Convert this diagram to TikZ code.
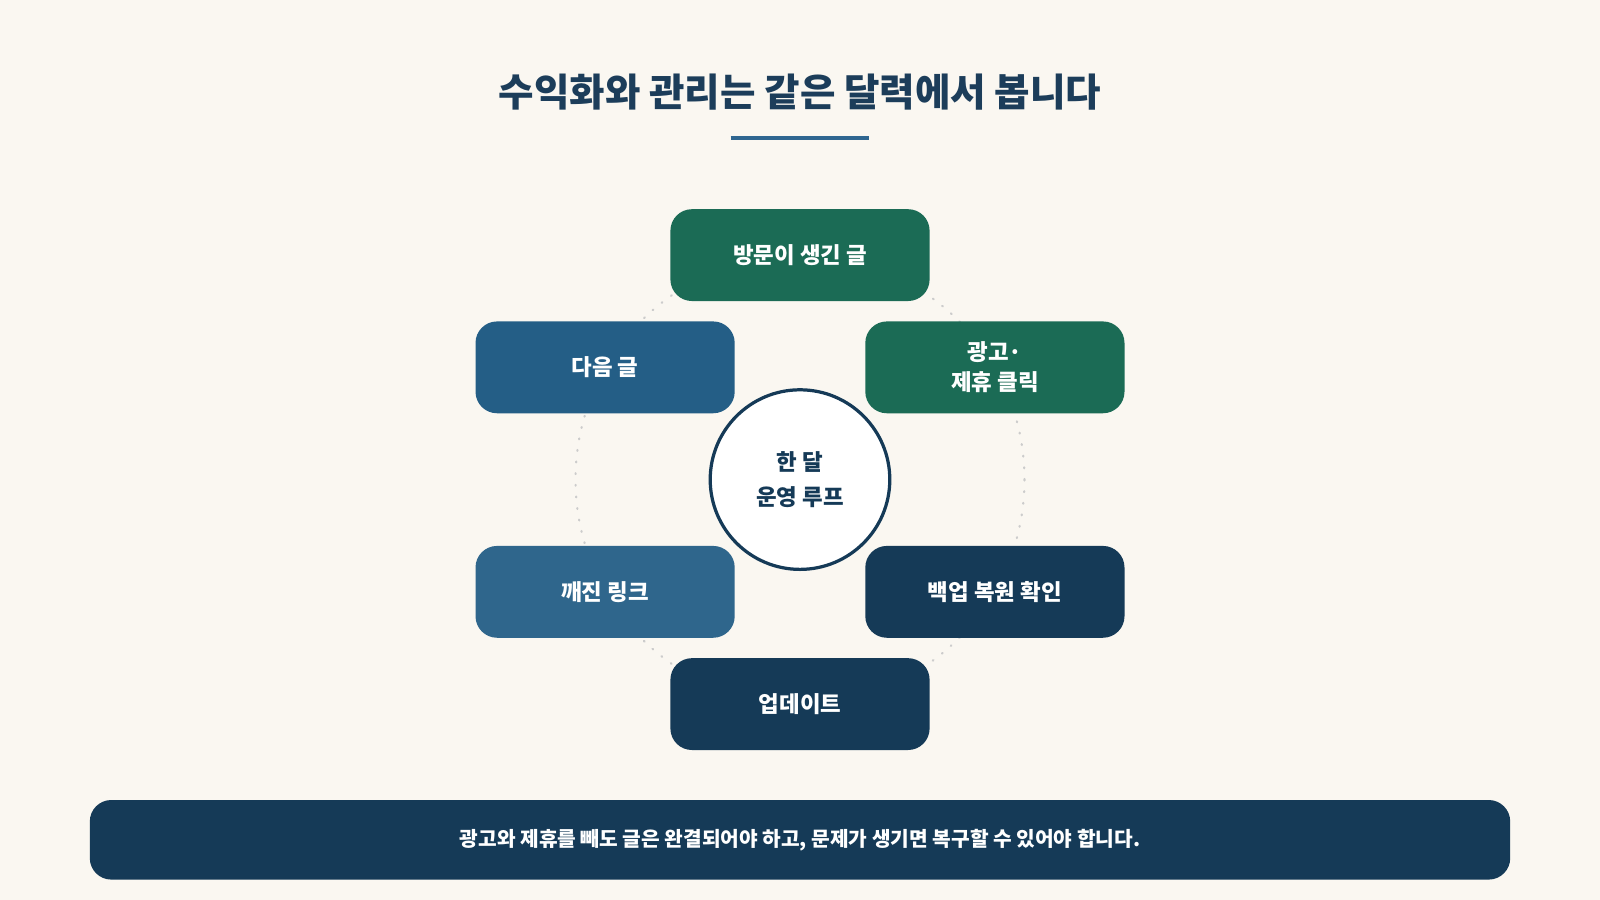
\documentclass[tikz,border=0pt]{standalone}
\usepackage{fontspec}
\setmainfont{Noto Sans CJK KR}
\usetikzlibrary{positioning,backgrounds}
\definecolor{cream}{HTML}{FAF7F1}
\definecolor{navy}{HTML}{153A57}
\definecolor{ink}{HTML}{1C3D5A}
\definecolor{teal}{HTML}{1B6B55}
\definecolor{steel}{HTML}{245E86}
\definecolor{bar}{HTML}{2F6690}
\definecolor{spoke}{HTML}{8AA0A8}
\tikzset{
  stage/.style={draw=none, rounded corners=12pt, minimum width=254*0.02cm, minimum height=90*0.02cm,
    text=white, font=\bfseries\fontsize{12.5}{17}\selectfont, align=center},
  link/.style={draw=spoke, line width=1.3pt}
}
\begin{document}
\begin{tikzpicture}[x=0.02cm, y=-0.02cm]
\fill[cream] (0,0) rectangle (1568,882);
\useasboundingbox (0,0) rectangle (1568,882);
\node (title) at (784,90) [text=ink, font=\bfseries\fontsize{21.5}{26}\selectfont] {수익화와 관리는 같은 달력에서 봅니다};
\draw [bar, line width=2.3pt] (716,135) -- (852,135);

% ring behind the stages
\draw [gray!40, line width=1.2pt, dash pattern=on 0.5pt off 6pt, line cap=round] (784,470) circle (220);

\node (loop) at (784,470) [circle, draw=navy, line width=1.8pt, fill=white, minimum size=176*0.02cm,
  align=center, text=navy, font=\bfseries\fontsize{12.5}{20}\selectfont] {한 달\\운영 루프};
\node (visit) at (784,250) [stage, fill=teal] {방문이 생긴 글};
\node (ads) at (975,360) [stage, fill=teal] {광고·\\제휴 클릭};
\node (next) at (593,360) [stage, fill=steel] {다음 글};
\node (broken) at (593,580) [stage, fill=steel!95!white] {깨진 링크};
\node (backup) at (975,580) [stage, fill=navy] {백업 복원 확인};
\node (update) at (784,690) [stage, fill=navy] {업데이트};

\begin{scope}[on background layer]
\foreach \s in {visit,ads,next,broken,backup,update}
  \draw [link] (loop) -- (\s);
\end{scope}

\node (note) at (784,823) [fill=navy, rounded corners=12pt, minimum width=1392*0.02cm, minimum height=78*0.02cm,
  text=white, font=\bfseries\fontsize{11.3}{14}\selectfont] {광고와 제휴를 빼도 글은 완결되어야 하고, 문제가 생기면 복구할 수 있어야 합니다.};
\end{tikzpicture}
\end{document}
